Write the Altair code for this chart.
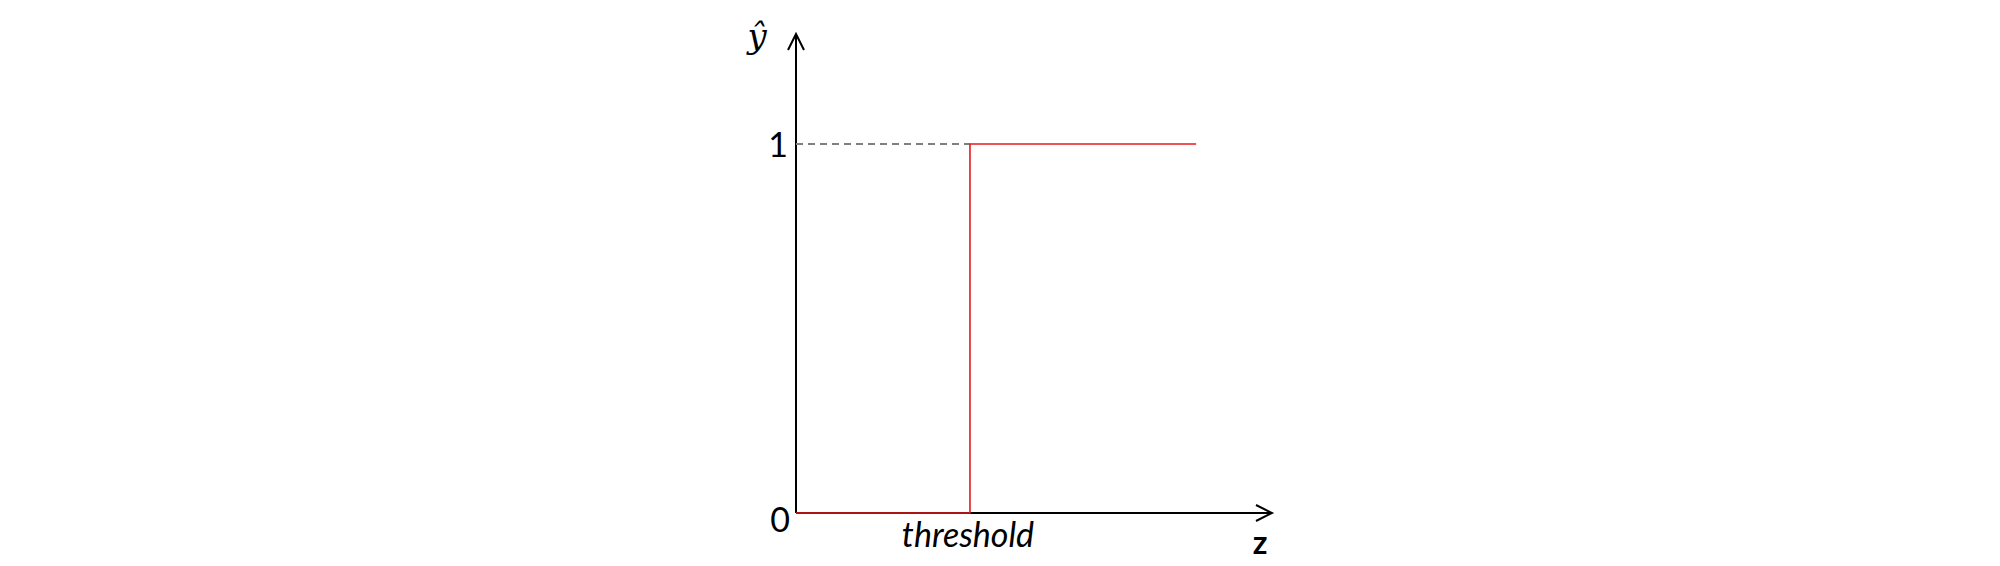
import altair as alt
import pandas as pd

# --- data ---
z_step = [0.0, 1.0, 1.0, 2.3]
yhat_step = [0, 0, 1, 1]
threshold = 1.0
z_max = 2.736
y_max = 1.298
dash_z = [0.0, threshold]
dash_y = [1, 1]

step_df = pd.DataFrame({"z": z_step, "y": yhat_step, "o": list(range(len(z_step)))})
dash_df = pd.DataFrame({"z": dash_z, "y": dash_y})
axis_df = pd.DataFrame({"z": [0.0], "z2": [z_max], "y": [0.0], "y2": [y_max]})

xs = alt.Scale(domain=[0, z_max], nice=False, zero=False)
ys = alt.Scale(domain=[0, y_max], nice=False, zero=False)

base_x = alt.X("z:Q", scale=xs, axis=None)
base_y = alt.Y("y:Q", scale=ys, axis=None)

x_axis = alt.Chart(axis_df).mark_rule(color="black", strokeWidth=2).encode(
    x=alt.X("z:Q", scale=xs, axis=None), x2="z2:Q", y=alt.Y("y:Q", scale=ys, axis=None)
)
y_axis = alt.Chart(axis_df).mark_rule(color="black", strokeWidth=2).encode(
    x=alt.X("z:Q", scale=xs, axis=None), y=alt.Y("y:Q", scale=ys, axis=None), y2="y2:Q"
)

arrow_path = "M-0.5,1L0,0L0.5,1"
arrows_df = pd.DataFrame({"z": [0.0, z_max], "y": [y_max, 0.0], "a": [0, 90]})
arrows = alt.Chart(arrows_df).mark_point(
    shape=arrow_path, filled=False, size=1024, color="black", strokeWidth=2, opacity=1
).encode(x=base_x, y=base_y, angle=alt.Angle("a:Q", scale=None))

dashed = alt.Chart(dash_df).mark_line(color="#808080", strokeWidth=2, strokeDash=[7, 5]).encode(
    x=base_x, y=base_y
)

step = alt.Chart(step_df).mark_line(color="#e31a1c", strokeWidth=1.6).encode(
    x=base_x, y=base_y, order="o:Q"
)

def label(text, z, y, dx, dy, align, baseline, font, size, style="normal", weight="normal"):
    d = pd.DataFrame({"z": [z], "y": [y], "t": [text]})
    return alt.Chart(d).mark_text(
        align=align, baseline=baseline, dx=dx, dy=dy, font=font, fontSize=size,
        fontStyle=style, fontWeight=weight, color="black"
    ).encode(x=base_x, y=base_y, text="t:N")

t_yhat = label("ŷ", 0.0, y_max, -39, 4, "center", "middle", "DejaVu Serif", 34, style="italic")
t_one = label("1", 0.0, 1.0, -8, 3, "right", "middle", "Lato", 34)
t_zero = label("0", 0.0, 0.0, -6, 9, "right", "middle", "Lato", 34)
t_thr = label("threshold", threshold, 0.0, -2, 34, "center", "alphabetic", "Lato", 34, style="italic")
t_z = label("z", z_max, 0.0, -12, 41, "center", "alphabetic", "Lato", 32, weight="bold")

chart = alt.layer(
    x_axis, y_axis, dashed, step, arrows, t_yhat, t_one, t_zero, t_thr, t_z
).properties(
    width=476, height=479,
    padding={"left": 788, "top": 26, "right": 20, "bottom": 53},
    autosize=alt.AutoSizeParams(type="none"),
    background="white",
).configure_view(stroke=None)

chart.save("out.html", embed_options={"renderer": "svg", "actions": False})
